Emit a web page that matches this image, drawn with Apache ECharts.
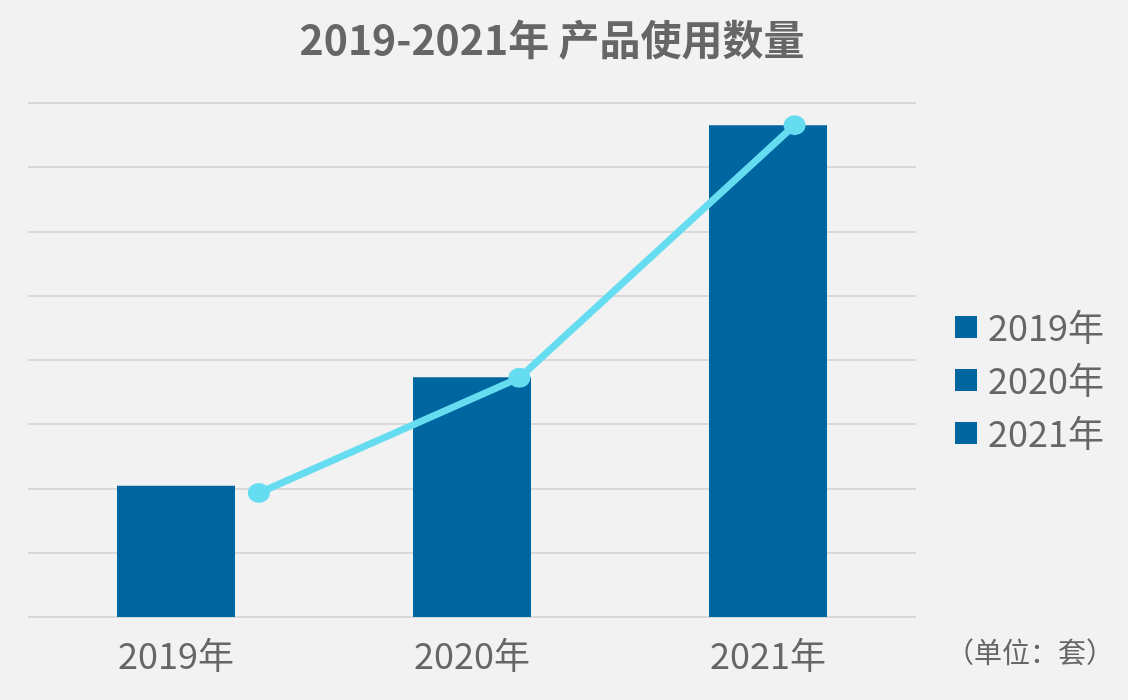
<!DOCTYPE html>
<html lang="zh">
<head>
<meta charset="UTF-8">
<title>产品使用数量</title>
<script src="https://cdn.jsdelivr.net/npm/echarts@6/dist/echarts.min.js"></script>
<style>
  html, body { margin: 0; padding: 0; background: #f2f2f2; }
  #chart { width: 1128px; height: 700px; }
</style>
</head>
<body>
<div id="chart"></div>
<script>
  // 数据
  const years = ['2019年', '2020年', '2021年'];
  const barValues = [204, 373, 765];
  // 折线点：x 为类目轴上的位置（0~3），y 为数量
  const lineX = [0.78, 1.66, 2.59];
  const lineY = [193, 372, 765];
  const yTicks = [0, 100, 200, 300, 400, 500, 600, 700, 800];

  const fontFamily = '"Noto Sans CJK SC", "Noto Sans", sans-serif';
  const barColor = '#0066a0';
  const lineColor = '#66dcf0';

  const chart = echarts.init(document.getElementById('chart'));

  // 每年一个柱系列，图例才有三项
  const barSeries = years.map(function (name, i) {
    return {
      name: name,
      type: 'bar',
      stack: 'total',
      barWidth: 118,
      itemStyle: { color: barColor },
      data: years.map(function (_, j) { return j === i ? barValues[i] : '-'; })
    };
  });

  const option = {
    backgroundColor: '#f2f2f2',
    textStyle: { fontFamily: fontFamily },
    title: {
      text: '2019-2021年 产品使用数量',
      left: 547,
      textAlign: 'center',
      top: 14,
      textStyle: { fontSize: 41, fontWeight: 'bold', color: '#666666', fontFamily: fontFamily }
    },
    legend: {
      orient: 'vertical',
      left: 950,
      top: 304,
      icon: 'rect',
      itemWidth: 22,
      itemHeight: 22,
      itemGap: 17,
      data: years,
      textStyle: { fontSize: 36, color: '#666666', fontFamily: fontFamily, padding: [0, 0, 0, 6] }
    },
    grid: { left: 28, right: 212, top: 102.7, bottom: 83 },
    xAxis: [
      {
        type: 'category',
        data: years,
        axisLine: { show: false },
        axisTick: { show: false },
        axisLabel: { fontSize: 36, color: '#666666', margin: 20, fontFamily: fontFamily }
      },
      {
        type: 'value',
        min: 0,
        max: 3,
        show: false
      }
    ],
    yAxis: {
      type: 'value',
      min: yTicks[0],
      max: yTicks[yTicks.length - 1],
      interval: yTicks[1] - yTicks[0],
      axisLabel: { show: false },
      axisLine: { show: false },
      axisTick: { show: false },
      splitLine: { lineStyle: { color: '#d9d9d9', width: 2 } }
    },
    graphic: [
      {
        type: 'text',
        left: 946,
        top: 638,
        style: { text: '（单位：套）', fontSize: 28, fill: '#666666', fontFamily: fontFamily }
      }
    ],
    series: barSeries.concat([
      {
        name: '趋势',
        type: 'line',
        xAxisIndex: 1,
        data: lineX.map(function (x, i) { return [x, lineY[i]]; }),
        symbol: 'circle',
        symbolSize: [22, 20],
        lineStyle: { color: lineColor, width: 7 },
        itemStyle: { color: lineColor },
        z: 5
      }
    ])
  };

  chart.setOption(option);
</script>
</body>
</html>
